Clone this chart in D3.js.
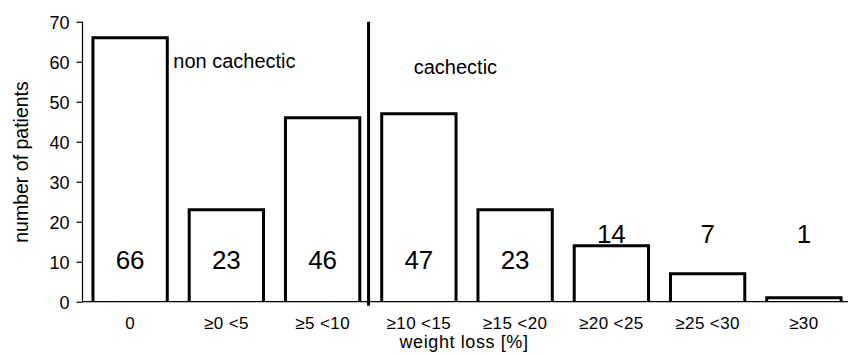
<!DOCTYPE html>
<html>
<head>
<meta charset="utf-8">
<script src="https://cdn.jsdelivr.net/npm/d3@7"></script>
<style>
  html, body { margin: 0; padding: 0; background: #fff; }
  svg { display: block; font-family: "Liberation Sans", Arial, sans-serif; }
</style>
</head>
<body>
<svg id="chart" width="848" height="354"></svg>
<script>
const categories = ["0", "\u22650 <5", "\u22655 <10", "\u226510 <15", "\u226515 <20", "\u226520 <25", "\u226525 <30", "\u226530"];
const patients = [66, 23, 46, 47, 23, 14, 7, 1];
const yTicks = [0, 10, 20, 30, 40, 50, 60, 70];
const groupLabels = ["non cachectic", "cachectic"];
const xTitle = "weight loss [%]";
const yTitle = "number of patients";

const svg = d3.select("#chart");

const x = d3.scaleBand()
  .domain(categories)
  .range([82, 852])
  .paddingInner(0.228)
  .paddingOuter(0.114);

const y = d3.scaleLinear()
  .domain([0, 70])
  .range([301.7, 21.7]);

// y axis
const yAxis = d3.axisLeft(y).tickValues(yTicks).tickSize(6).tickPadding(7);
const gy = svg.append("g").attr("transform", "translate(82.5,0)").call(yAxis);
gy.select(".domain").attr("stroke", "#000").attr("stroke-width", 1.2).attr("d", `M0,${y(70)}V${y(0)}`);
gy.selectAll(".tick line").attr("stroke", "#000").attr("stroke-width", 1.2);
gy.selectAll(".tick text").attr("font-size", 18).attr("fill", "#000")
  .attr("font-family", "Liberation Sans, Arial, sans-serif").attr("dy", "0.36em");

// x baseline
svg.append("line")
  .attr("x1", 82).attr("x2", 848)
  .attr("y1", y(0)).attr("y2", y(0))
  .attr("stroke", "#000").attr("stroke-width", 1.3);

// bars (open at the bottom)
svg.append("g").selectAll("path")
  .data(categories)
  .join("path")
  .attr("d", (d, i) => {
    const x0 = x(d), x1 = x(d) + x.bandwidth();
    return `M${x0},${y(0)}V${y(patients[i])}H${x1}V${y(0)}`;
  })
  .attr("fill", "none")
  .attr("stroke", "#000")
  .attr("stroke-width", 3);

// value labels
svg.append("g").selectAll("text")
  .data(categories)
  .join("text")
  .attr("x", d => x(d) + x.bandwidth() / 2)
  .attr("y", (d, i) => patients[i] >= 20 ? y(8.2) : y(14.6))
  .attr("text-anchor", "middle")
  .attr("font-size", 26)
  .attr("fill", "#000")
  .text((d, i) => patients[i]);

// x tick labels
svg.append("g").selectAll("text")
  .data(categories)
  .join("text")
  .attr("x", d => x(d) + x.bandwidth() / 2)
  .attr("y", 328.5)
  .attr("text-anchor", "middle")
  .attr("font-size", 17)
  .attr("letter-spacing", 0.4)
  .attr("fill", "#000")
  .text(d => d);

// divider between non cachectic and cachectic
const divX = x(categories[3]) - x.step() * x.paddingInner() * 0.6;
svg.append("line")
  .attr("x1", divX).attr("x2", divX)
  .attr("y1", y(70)).attr("y2", y(0) + 4)
  .attr("stroke", "#000").attr("stroke-width", 3);

// group labels
svg.append("text")
  .attr("x", x(categories[0]) + x.bandwidth() + 6)
  .attr("y", 68)
  .attr("font-size", 20)
  .attr("fill", "#000")
  .text(groupLabels[0]);
svg.append("text")
  .attr("x", x(categories[3]) + 32)
  .attr("y", 74)
  .attr("font-size", 20)
  .attr("fill", "#000")
  .text(groupLabels[1]);

// axis titles
svg.append("text")
  .attr("x", 464)
  .attr("y", 348)
  .attr("text-anchor", "middle")
  .attr("font-size", 18)
  .attr("letter-spacing", 0.6)
  .attr("fill", "#000")
  .text(xTitle);

svg.append("text")
  .attr("transform", "translate(28,162) rotate(-90)")
  .attr("text-anchor", "middle")
  .attr("font-size", 19.5)
  .attr("fill", "#000")
  .text(yTitle);
</script>
</body>
</html>
